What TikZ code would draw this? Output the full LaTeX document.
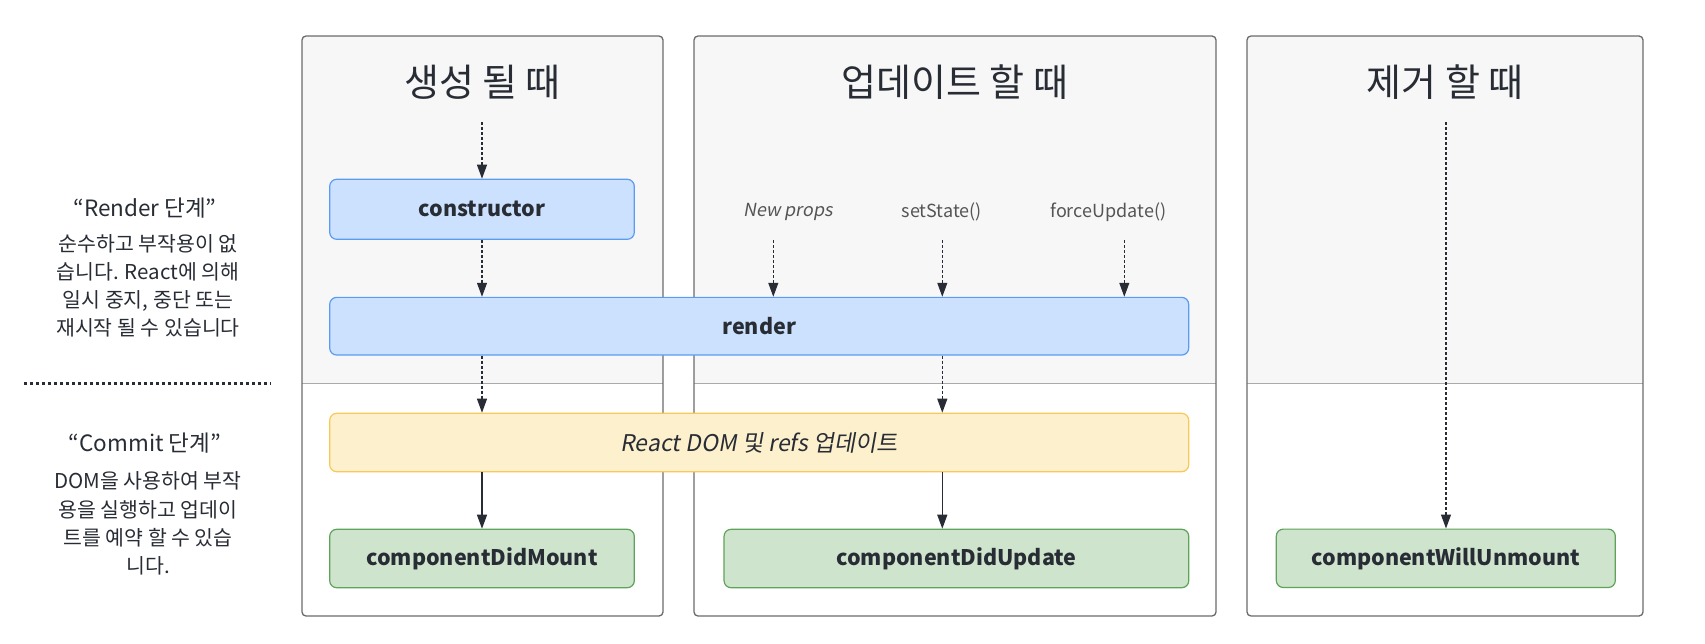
\documentclass[tikz,border=0pt]{standalone}
\usepackage{fontspec}
\setmainfont{Noto Sans CJK KR}
\newfontfamily\slantfont{Noto Sans CJK KR}[FakeSlant=0.18]
\usetikzlibrary{arrows.meta}
\definecolor{txt}{HTML}{282C34}
\definecolor{pgray}{HTML}{F7F7F7}
\definecolor{pborder}{HTML}{6B6B6B}
\definecolor{pdiv}{HTML}{AAAAAA}
\definecolor{bluefill}{HTML}{CCE1FD}
\definecolor{blueline}{HTML}{5B9CF2}
\definecolor{yelfill}{HTML}{FDF0CD}
\definecolor{yelline}{HTML}{F7C85A}
\definecolor{grnfill}{HTML}{CFE4CD}
\definecolor{grnline}{HTML}{5EA35A}
\definecolor{labgray}{HTML}{555555}
\tikzset{
  lcbox/.style={rectangle, rounded corners=7pt, line width=1.2pt, inner sep=0pt, text=txt,
    font=\fontsize{21.5}{26}\selectfont\bfseries},
  bluebox/.style={lcbox, fill=bluefill, draw=blueline},
  yelbox/.style={lcbox, fill=yelfill, draw=yelline, font=\fontsize{23}{28}\selectfont\slantfont},
  grnbox/.style={lcbox, fill=grnfill, draw=grnline},
  ptitle/.style={text=txt, font=\fontsize{38}{44}\selectfont, inner sep=0pt},
  trig/.style={text=labgray, font=\fontsize{18}{22}\selectfont, inner sep=0pt},
  phead/.style={text=txt, font=\fontsize{22.5}{27}\selectfont, inner sep=0pt},
  pbody/.style={text=txt, align=center, font=\fontsize{20.5}{28.2}\selectfont, inner sep=0pt},
  flowdash/.style={draw=txt, line width=1.1pt, dash pattern=on 3pt off 2pt,
    -{Triangle[length=14pt,width=10pt]}},
  flowsolid/.style={draw=txt, line width=1.3pt, -{Triangle[length=14pt,width=10pt]}},
  panelline/.style={draw=pborder, line width=1.3pt, rounded corners=4pt},
  divline/.style={draw=pdiv, line width=1.2pt},
  phasesep/.style={draw=txt, line width=3pt, dash pattern=on 3pt off 3pt}
}
\begin{document}
\begin{tikzpicture}[x=1pt,y=-1pt]
\useasboundingbox (0,0) rectangle (1705,643);
% panels
\foreach \l/\r in {302/663, 694/1216, 1247/1643}{
  \begin{scope}
    \clip[rounded corners=4pt] (\l,36) rectangle (\r,616);
    \fill[white] (\l,36) rectangle (\r,616);
    \fill[pgray] (\l,36) rectangle (\r,383.3);
  \end{scope}
  \draw[divline] (\l,383.3) -- (\r,383.3);
  \draw[panelline] (\l,36) rectangle (\r,616);
}
% titles
\node[ptitle] (t1) at (482.5,82) {생성 될 때};
\node[ptitle] (t2) at (955,82) {업데이트 할 때};
\node[ptitle] (t3) at (1445,82) {제거 할 때};
% boxes
\node[bluebox, minimum width=304.6pt, minimum height=60pt] (cons) at (482,209.3) {constructor};
\node[bluebox, minimum width=859pt, minimum height=57.7pt] (render) at (759.2,326.2) {render};
\node[yelbox, minimum width=859pt, minimum height=58.4pt] (dom) at (759.2,442.5) {React DOM 및 refs 업데이트};
\node[grnbox, minimum width=304.6pt, minimum height=58.4pt] (cdm) at (482,558.5) {componentDidMount};
\node[grnbox, minimum width=464.7pt, minimum height=58.4pt] (cdu) at (956.4,558.5) {componentDidUpdate};
\node[grnbox, minimum width=339pt, minimum height=58.4pt] (cwu) at (1445.8,558.3) {componentWillUnmount};
% triggers
\node[trig, font=\fontsize{18}{22}\selectfont\slantfont] (np) at (788,211.7) {New props};
\node[trig] (ss) at (941.7,211.7) {setState()};
\node[trig] (fu) at (1108.3,211.7) {forceUpdate()};
\coordinate (npa) at (773.3,240);
\coordinate (ssa) at (942.3,240);
\coordinate (fua) at (1124.3,240);
\coordinate (mnt) at (482,122);
\coordinate (unm) at (1446,122);
% arrows
\draw[flowdash] (mnt) -- (cons.north -| mnt);
\draw[flowdash] (cons.south -| mnt) -- (render.north -| mnt);
\draw[flowdash] (render.south -| mnt) -- (dom.north -| mnt);
\draw[flowsolid] (dom.south -| mnt) -- (cdm.north -| mnt);
\draw[flowdash] (npa) -- (render.north -| npa);
\draw[flowdash] (ssa) -- (render.north -| ssa);
\draw[flowdash] (fua) -- (render.north -| fua);
\draw[flowdash] (render.south -| ssa) -- (dom.north -| ssa);
\draw[flowsolid] (dom.south -| ssa) -- (cdu.north -| ssa);
\draw[flowdash] (unm) -- (cwu.north -| unm);
% left phase labels
\node[phead] (rh) at (145,208.3) {“Render 단계”};
\node[pbody] (rb) at (148,286) {순수하고 부작용이 없\\습니다. React에 의해\\일시 중지, 중단 또는\\재시작 될 수 있습니다};
\coordinate (sepl) at (24,383.3);
\coordinate (sepr) at (271,383.3);
\draw[phasesep] (sepl) -- (sepr);
\node[phead] (ch) at (145,443.3) {“Commit 단계”};
\node[pbody] (cb) at (148,523.5) {DOM을 사용하여 부작\\용을 실행하고 업데이\\트를 예약 할 수 있습\\니다.};
\end{tikzpicture}
\end{document}
